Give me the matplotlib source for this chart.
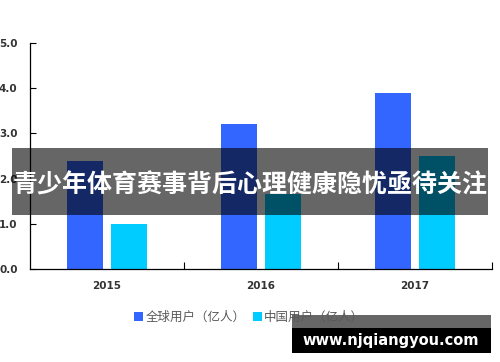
import matplotlib.pyplot as plt
import numpy as np
from matplotlib.patches import Patch, Rectangle

plt.rcParams['font.family'] = ['Noto Sans CJK SC', 'DejaVu Sans']

# data
years = ["2015", "2016", "2017"]
global_users = [2.4, 3.2, 3.9]
china_users = [1.0, 1.65, 2.5]
y_ticks = [0.0, 1.0, 2.0, 3.0, 4.0, 5.0]
series_names = ["全球用户（亿人）", "中国用户（亿人）"]
title_text = "青少年体育赛事背后心理健康隐忧亟待关注"
watermark = "www.njqiangyou.com"

c_blue = "#3366FF"
c_cyan = "#00CCFF"

fig = plt.figure(figsize=(5, 3.62), dpi=100)
ax = fig.add_axes([0.06, 0.257, 0.924, 0.624])

x = np.arange(len(years))
w = 0.235
ax.bar(x - 0.142, global_users, w, color=c_blue)
ax.bar(x + 0.142, china_users, w, color=c_cyan)

ax.set_xlim(-0.5, 2.5)
ax.set_ylim(0, 5)
ax.set_yticks(y_ticks)
ax.set_yticklabels([f"{v:.1f}" for v in y_ticks])
ax.set_xticks(x)
ax.set_xticklabels(years)
ax.set_xticks([0.5, 1.5, 2.5], minor=True)
ax.tick_params(axis="x", which="major", length=0, pad=9)
ax.tick_params(axis="x", which="minor", direction="in", length=5, width=0.8)
ax.tick_params(axis="y", direction="in", length=4, width=0.8, pad=9)
for lab in ax.get_xticklabels() + ax.get_yticklabels():
    lab.set_fontsize(7.5)
    lab.set_color("#333333")
    lab.set_fontweight("bold")
    lab.set_family("DejaVu Sans")
ax.spines["top"].set_visible(False)
ax.spines["right"].set_visible(False)
ax.spines["left"].set_linewidth(0.9)
ax.spines["bottom"].set_linewidth(0.9)

handles = [Patch(facecolor=c_blue, label=series_names[0]),
           Patch(facecolor=c_cyan, label=series_names[1])]
fig.legend(handles=handles, loc="center", bbox_to_anchor=(0.498, 0.124),
           ncol=2, frameon=False, fontsize=9, handlelength=0.7,
           handleheight=0.7, handletextpad=0.2, columnspacing=0.6,
           labelcolor="#595959")

# overlay band with headline
fig.patches.append(Rectangle((12 / 500, 1 - 215 / 362), 476 / 500, 67 / 362,
                             transform=fig.transFigure, facecolor="black",
                             linewidth=0, alpha=0.6, zorder=5))
fig.text(0.5, 1 - 185 / 362, title_text, color="white", fontsize=18,
         fontweight="bold", ha="center", va="center", zorder=6)

# watermark box
fig.patches.append(Rectangle((292 / 500, 1 - 328 / 362), 199 / 500, 13 / 362,
                             transform=fig.transFigure, facecolor="black",
                             linewidth=0, alpha=0.6, zorder=5))
fig.patches.append(Rectangle((292 / 500, 1 - 353 / 362), 199 / 500, 25 / 362,
                             transform=fig.transFigure, facecolor="black",
                             linewidth=0, zorder=5))
fig.text(391 / 500, 1 - 340 / 362, watermark, color="white", fontsize=10.5,
         fontweight="bold", ha="center", va="center", zorder=6,
         family="DejaVu Sans")

fig.savefig("out.png", dpi=100)
